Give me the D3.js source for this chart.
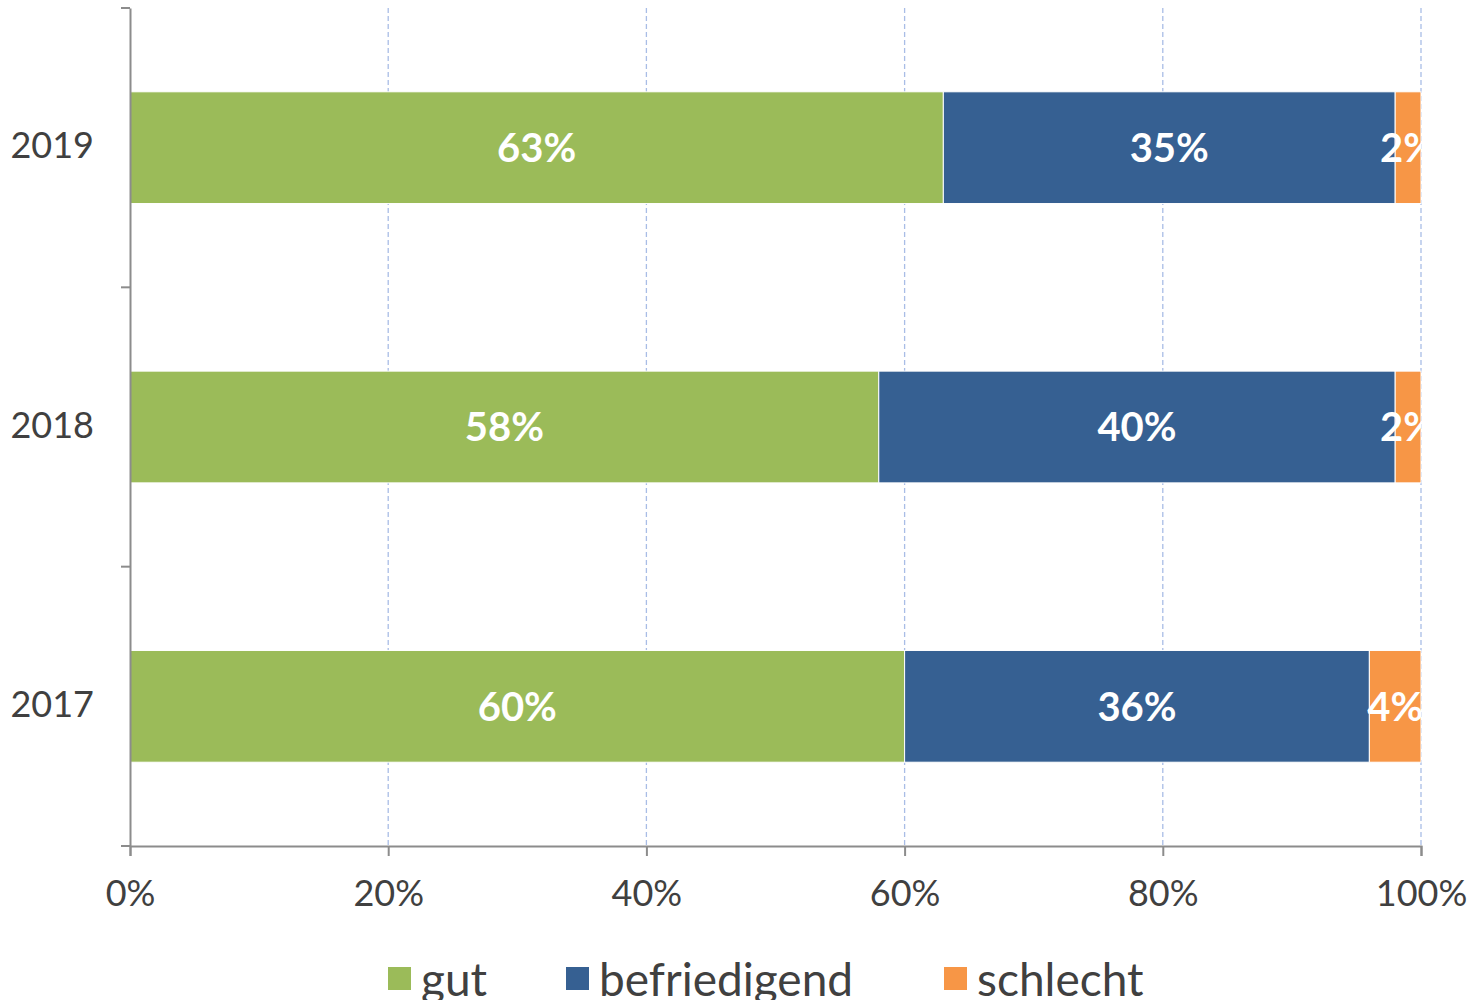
<!DOCTYPE html>
<html>
<head>
<meta charset="utf-8">
<script src="https://cdn.jsdelivr.net/npm/d3@7"></script>
<style>
  body { margin: 0; background: #fff; }
  svg text { font-family: "Century Gothic", Lato, "DejaVu Sans", sans-serif; }
</style>
</head>
<body>
<div id="chart"></div>
<script>
// Daten
const years = ["2019", "2018", "2017"];
const series = ["gut", "befriedigend", "schlecht"];
const gut = [63, 58, 60];
const befriedigend = [35, 40, 36];
const schlecht = [2, 2, 4];
const xTicks = [0, 20, 40, 60, 80, 100];
const colors = ["#9bbb59", "#366092", "#f79646"];

// Tamaño
const W = 1475, H = 1000;
const margin = { top: 8, right: 54, bottom: 154, left: 130 };
const width = W - margin.left - margin.right;
const height = H - margin.top - margin.bottom;

const rows = years.map((y, i) => ({ year: y, gut: gut[i], befriedigend: befriedigend[i], schlecht: schlecht[i] }));
const stacked = d3.stack().keys(series)(rows);

const x = d3.scaleLinear().domain([0, 100]).range([0, width]);
const y = d3.scaleBand().domain(years).range([0, height]).paddingInner(0.6).paddingOuter(0.3);

const svg = d3.select("#chart").append("svg")
  .attr("width", W).attr("height", H);

const g = svg.append("g").attr("transform", `translate(${margin.left},${margin.top})`);

g.append("defs").append("clipPath").attr("id", "plotclip")
  .append("rect").attr("x", 0).attr("y", 0).attr("width", width).attr("height", height);

// Gitternetz
g.append("g").selectAll("line")
  .data(xTicks.slice(1))
  .enter().append("line")
  .attr("x1", d => x(d)).attr("x2", d => x(d))
  .attr("y1", 0).attr("y2", height)
  .attr("stroke", "#a9bde6")
  .attr("stroke-width", 1.3)
  .attr("stroke-dasharray", "5,3");

// Balken
const layer = g.append("g").selectAll("g")
  .data(stacked)
  .enter().append("g")
  .attr("fill", (d, i) => colors[i]);

layer.selectAll("rect")
  .data(d => d)
  .enter().append("rect")
  .attr("x", d => x(d[0]))
  .attr("width", d => x(d[1]) - x(d[0]))
  .attr("y", d => y(d.data.year))
  .attr("height", y.bandwidth())
  .attr("stroke", "#fff")
  .attr("stroke-width", 1);

// Beschriftungen
const labels = g.append("g").attr("clip-path", "url(#plotclip)");
stacked.forEach(s => {
  labels.selectAll(null)
    .data(s)
    .enter().append("text")
    .attr("x", d => x((d[0] + d[1]) / 2))
    .attr("y", d => y(d.data.year) + y.bandwidth() / 2)
    .attr("dy", "0.36em")
    .attr("text-anchor", "middle")
    .attr("fill", "#fff")
    .attr("font-weight", "bold")
    .attr("font-size", 40)
    .text(d => (d[1] - d[0]) + "%");
});

// Achsen
const xAxis = g.append("g")
  .attr("transform", `translate(0,${height})`)
  .call(d3.axisBottom(x).tickValues(xTicks).tickFormat(d => d + "%").tickSize(10).tickPadding(18));

const yAxis = g.append("g")
  .call(d3.axisLeft(y).tickSize(0).tickPadding(36));

// Kategorie-Trennstriche
const bounds = [0].concat(years.map(d => y(d) + y.bandwidth() + y.step() * y.paddingInner() / 2));
bounds[bounds.length - 1] = height;
g.append("g").selectAll("line")
  .data(bounds)
  .enter().append("line")
  .attr("x1", -9).attr("x2", 0)
  .attr("y1", d => d).attr("y2", d => d)
  .attr("stroke", "#8c8c8c").attr("stroke-width", 2);

[xAxis, yAxis].forEach(a => {
  a.select(".domain").attr("stroke", "#8c8c8c").attr("stroke-width", 2);
  a.selectAll(".tick line").attr("stroke", "#8c8c8c").attr("stroke-width", 2);
  a.selectAll("text").attr("fill", "#404040").attr("font-size", 36);
});
yAxis.selectAll("text").attr("dy", "0.3em");
xAxis.selectAll("text").attr("dy", "0.9em");

// Legende
const legendX = [388, 566, 944];
const legend = svg.append("g").selectAll("g")
  .data(series)
  .enter().append("g")
  .attr("transform", (d, i) => `translate(${legendX[i]},967)`);
legend.append("rect")
  .attr("width", 23).attr("height", 23)
  .attr("fill", (d, i) => colors[i]);
legend.append("text")
  .attr("x", 33).attr("y", 11)
  .attr("dy", "0.4em")
  .attr("fill", "#404040")
  .attr("font-size", 46)
  .text(d => d);
</script>
</body>
</html>
